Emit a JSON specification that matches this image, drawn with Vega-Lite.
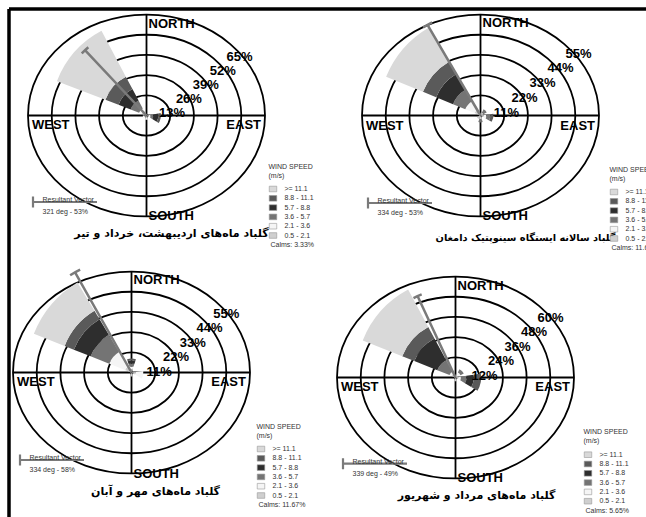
{
  "$schema": "https://vega.github.io/schema/vega-lite/v6.json",
  "background": "white",
  "padding": {"left": 8.5, "top": 8.5, "right": 0, "bottom": 0},
  "bounds": "flush",
  "columns": 2,
  "align": "each",
  "spacing": {"row": 0, "column": 0},
  "resolve": {
    "scale": {"fill": "independent", "stroke": "independent", "size": "independent", "theta": "independent", "radius": "independent", "x": "independent", "y": "independent"},
    "legend": {"fill": "independent", "stroke": "independent", "size": "independent"},
    "axis": {"x": "independent", "y": "independent"}
  },
  "config": {
    "view": {"stroke": null},
    "font": "Liberation Sans",
    "text": {"font": "Liberation Sans", "color": "black"},
    "legend": {"labelFont": "Liberation Sans", "titleFont": "Liberation Sans", "padding": 0}
  },
  "concat": [
    {
      "width": 276,
      "height": 214,
      "layer": [
        {
          "data": {"values": [{"ring": 13, "label": "13%"}, {"ring": 26, "label": "26%"}, {"ring": 39, "label": "39%"}, {"ring": 52, "label": "52%"}, {"ring": 65, "label": "65%"}]},
          "layer": [
            {"mark": {"type": "point", "shape": "M1,0C1,0.4706 0.5523,0.852 0,0.852C-0.5523,0.852 -1,0.4706 -1,0C-1,-0.4706 -0.5523,-0.852 0,-0.852C0.5523,-0.852 1,-0.4706 1,0Z", "filled": false, "stroke": "black", "strokeWidth": 1.8, "opacity": 1},
             "encoding": {"size": {"field": "ring", "type": "quantitative", "scale": {"type": "pow", "exponent": 2, "domain": [0, 65], "range": [0, 56169]}, "legend": null}}},
            {"transform": [{"filter": "datum.ring == 65"}],
             "mark": {"type": "point", "shape": "M-1,0L1,0M0,-0.852L0,0.852", "filled": false, "stroke": "black", "strokeWidth": 1.8, "opacity": 1},
             "encoding": {"size": {"field": "ring", "type": "quantitative", "scale": {"type": "pow", "exponent": 2, "domain": [0, 65], "range": [0, 56169]}, "legend": null}}}
          ]
        },
        {
          "data": {"values": [
            {"dir": 311.5, "speed": "0.5 - 2.1", "r0": 0, "r1": 3},
            {"dir": 311.5, "speed": "2.1 - 3.6", "r0": 3, "r1": 4.7},
            {"dir": 311.5, "speed": "3.6 - 5.7", "r0": 4.7, "r1": 10},
            {"dir": 311.5, "speed": "5.7 - 8.8", "r0": 10, "r1": 17.7},
            {"dir": 311.5, "speed": "8.8 - 11.1", "r0": 17.7, "r1": 26},
            {"dir": 311.5, "speed": ">= 11.1", "r0": 26, "r1": 56.7},
            {"dir": 101, "speed": "0.5 - 2.1", "r0": 0, "r1": 1.2},
            {"dir": 101, "speed": "2.1 - 3.6", "r0": 1.2, "r1": 2.5},
            {"dir": 101, "speed": "3.6 - 5.7", "r0": 2.5, "r1": 4},
            {"dir": 101, "speed": "5.7 - 8.8", "r0": 4, "r1": 7},
            {"dir": 101, "speed": "8.8 - 11.1", "r0": 7, "r1": 8.5},
            {"dir": 180, "speed": "0.5 - 2.1", "r0": 0, "r1": 1.5},
            {"dir": 180, "speed": "2.1 - 3.6", "r0": 1.5, "r1": 2.5},
            {"dir": 250, "speed": "0.5 - 2.1", "r0": 0, "r1": 1.5},
            {"dir": 250, "speed": "2.1 - 3.6", "r0": 1.5, "r1": 2.2}
          ]},
          "mark": {"type": "arc", "thetaOffset": -0.358, "theta2Offset": 0.358},
          "encoding": {
            "theta": {"field": "dir", "type": "quantitative", "stack": null, "scale": {"domain": [0, 360], "range": [0, 6.283185], "zero": false, "nice": false}},
            "theta2": {"field": "dir"},
            "radius": {"field": "r1", "type": "quantitative", "scale": {"type": "linear", "domain": [0, 65], "range": [0, 110], "zero": true, "nice": false}},
            "radius2": {"field": "r0"},
            "fill": {"field": "speed", "type": "nominal",
              "scale": {"domain": [">= 11.1", "8.8 - 11.1", "5.7 - 8.8", "3.6 - 5.7", "2.1 - 3.6", "0.5 - 2.1", "Calms: 3.33%"], "range": ["#d9d9d9", "#5a5a5a", "#2e2e2e", "#747474", "#f5f5f5", "#cfcfcf", "rgba(255,255,255,0)"]},
              "legend": {"orient": "none", "legendX": 260, "legendY": 154, "title": ["WIND SPEED", "(m/s)"], "titleFontSize": 7, "titleFontWeight": "normal", "titleColor": "#333", "titleLineHeight": 9, "titlePadding": 6, "labelFontSize": 7, "labelColor": "#333", "labelOffset": 7, "symbolType": "M-1,-0.75L1,-0.75L1,0.75L-1,0.75Z", "symbolSize": 56, "symbolStrokeColor": "#999", "symbolStrokeWidth": 0.6, "symbolOpacity": 1, "rowPadding": 0.3,
                "encode": {"symbols": {"update": {"strokeOpacity": {"signal": "indexof(datum.label, 'Calms') === 0 ? 0 : 1"}}}, "labels": {"update": {"dx": {"signal": "indexof(datum.label, 'Calms') === 0 ? -14 : 0"}}}}}
            }
          }
        },
        {
          "data": {"values": [{"vec": "321 deg - 53%", "dir": 316.7, "len": 53}]},
          "layer": [
            {"mark": {"type": "arc", "filled": false, "strokeWidth": 2.5},
             "encoding": {
               "theta": {"field": "dir", "type": "quantitative", "stack": null, "scale": {"domain": [0, 360], "range": [0, 6.283185], "zero": false, "nice": false}},
               "theta2": {"field": "dir"},
               "radius": {"field": "len", "type": "quantitative", "scale": {"type": "linear", "domain": [0, 65], "range": [0, 110], "zero": true, "nice": false}},
               "stroke": {"field": "vec", "type": "nominal", "scale": {"range": ["#7a7a7a"]},
                 "legend": {"orient": "none", "legendX": 23, "legendY": 160, "title": null, "symbolType": "M-1,-0.17L-1,0.17M-1,0L1,0", "symbolSize": 4096, "symbolStrokeWidth": 2.2, "labelExpr": "['Resultant Vector', datum.label]", "labelOffset": -56, "labelFontSize": 7, "labelColor": "#333", "labelBaseline": "middle",
                   "encode": {"labels": {"update": {"lineHeight": {"value": 11.7}, "dy": {"value": -1.8}}}}}}
             }},
            {"mark": {"type": "arc", "filled": false, "strokeWidth": 2.5, "thetaOffset": -0.05, "theta2Offset": 0.05},
             "encoding": {
               "theta": {"field": "dir", "type": "quantitative", "stack": null, "scale": {"domain": [0, 360], "range": [0, 6.283185], "zero": false, "nice": false}},
               "theta2": {"field": "dir"},
               "radius": {"field": "len", "type": "quantitative", "scale": {"type": "linear", "domain": [0, 65], "range": [0, 110], "zero": true, "nice": false}},
               "radius2": {"field": "len"},
               "stroke": {"field": "vec", "type": "nominal", "scale": {"range": ["#7a7a7a"]},
                 "legend": {"orient": "none", "legendX": 23, "legendY": 160, "title": null, "symbolType": "M-1,-0.17L-1,0.17M-1,0L1,0", "symbolSize": 4096, "symbolStrokeWidth": 2.2, "labelExpr": "['Resultant Vector', datum.label]", "labelOffset": -56, "labelFontSize": 7, "labelColor": "#333", "labelBaseline": "middle",
                   "encode": {"labels": {"update": {"lineHeight": {"value": 11.7}, "dy": {"value": -1.8}}}}}}
             }}
          ]
        },
        {
          "data": {"values": [{"ring": 13, "label": "13%"}, {"ring": 26, "label": "26%"}, {"ring": 39, "label": "39%"}, {"ring": 52, "label": "52%"}, {"ring": 65, "label": "65%"}]},
          "mark": {"type": "text", "fontWeight": "bold", "fontSize": 13, "dx": 8.6, "dy": 11, "align": "center", "baseline": "middle"},
          "encoding": {
            "x": {"field": "ring", "type": "quantitative", "scale": {"domain": [-106.15, 106.15], "nice": false, "zero": false}, "axis": {"orient": "top", "title": null, "labels": false, "ticks": false, "grid": false, "domain": true, "domainColor": "black", "domainWidth": 3.5, "zindex": 1}},
            "y": {"field": "ring", "type": "quantitative", "scale": {"domain": [-99.36, 99.36], "nice": false, "zero": false}, "axis": {"orient": "left", "title": null, "labels": false, "ticks": false, "grid": false, "domain": true, "domainColor": "black", "domainWidth": 3.5, "zindex": 1}},
            "text": {"field": "label"}
          }
        },
        {"data": {"values": [{"label": "NORTH"}]}, "mark": {"type": "text", "fontWeight": "bold", "fontSize": 13, "align": "left", "baseline": "top", "dx": 2},
         "encoding": {"x": {"datum": 0, "type": "quantitative", "axis": {"orient": "top", "title": null, "labels": false, "ticks": false, "grid": false, "domain": true, "domainColor": "black", "domainWidth": 3.5, "zindex": 1}}, "y": {"datum": 91.0, "type": "quantitative", "axis": {"orient": "left", "title": null, "labels": false, "ticks": false, "grid": false, "domain": true, "domainColor": "black", "domainWidth": 3.5, "zindex": 1}}, "text": {"field": "label"}}},
        {"data": {"values": [{"label": "SOUTH"}]}, "mark": {"type": "text", "fontWeight": "bold", "fontSize": 13, "align": "left", "baseline": "top", "dx": 2},
         "encoding": {"x": {"datum": 0, "type": "quantitative", "axis": {"orient": "top", "title": null, "labels": false, "ticks": false, "grid": false, "domain": true, "domainColor": "black", "domainWidth": 3.5, "zindex": 1}}, "y": {"datum": -88.2, "type": "quantitative", "axis": {"orient": "left", "title": null, "labels": false, "ticks": false, "grid": false, "domain": true, "domainColor": "black", "domainWidth": 3.5, "zindex": 1}}, "text": {"field": "label"}}},
        {"data": {"values": [{"label": "WEST"}]}, "mark": {"type": "text", "fontWeight": "bold", "fontSize": 13, "align": "left", "baseline": "top"},
         "encoding": {"x": {"datum": -88.1, "type": "quantitative", "axis": {"orient": "top", "title": null, "labels": false, "ticks": false, "grid": false, "domain": true, "domainColor": "black", "domainWidth": 3.5, "zindex": 1}}, "y": {"datum": -3.7, "type": "quantitative", "axis": {"orient": "left", "title": null, "labels": false, "ticks": false, "grid": false, "domain": true, "domainColor": "black", "domainWidth": 3.5, "zindex": 1}}, "text": {"field": "label"}}},
        {"data": {"values": [{"label": "EAST"}]}, "mark": {"type": "text", "fontWeight": "bold", "fontSize": 13, "align": "right", "baseline": "top"},
         "encoding": {"x": {"datum": 88.1, "type": "quantitative", "axis": {"orient": "top", "title": null, "labels": false, "ticks": false, "grid": false, "domain": true, "domainColor": "black", "domainWidth": 3.5, "zindex": 1}}, "y": {"datum": -3.7, "type": "quantitative", "axis": {"orient": "left", "title": null, "labels": false, "ticks": false, "grid": false, "domain": true, "domainColor": "black", "domainWidth": 3.5, "zindex": 1}}, "text": {"field": "label"}}},
        {"data": {"values": [{"label": "گلباد ماه‌های اردیبهشت، خرداد و تیر"}]}, "mark": {"type": "text", "font": "DejaVu Sans", "fontWeight": "bold", "fontSize": 11, "align": "center", "baseline": "middle"},
         "encoding": {"x": {"datum": 19.2, "type": "quantitative", "axis": {"orient": "top", "title": null, "labels": false, "ticks": false, "grid": false, "domain": true, "domainColor": "black", "domainWidth": 3.5, "zindex": 1}}, "y": {"datum": -109.6, "type": "quantitative", "axis": {"orient": "left", "title": null, "labels": false, "ticks": false, "grid": false, "domain": true, "domainColor": "black", "domainWidth": 3.5, "zindex": 1}}, "text": {"field": "label"}}}
      ]
    },
    {
      "width": 392,
      "height": 214,
      "layer": [
        {
          "data": {"values": [{"ring": 11, "label": "11%"}, {"ring": 22, "label": "22%"}, {"ring": 33, "label": "33%"}, {"ring": 44, "label": "44%"}, {"ring": 55, "label": "55%"}]},
          "layer": [
            {"mark": {"type": "point", "shape": "M1,0C1,0.4706 0.5523,0.852 0,0.852C-0.5523,0.852 -1,0.4706 -1,0C-1,-0.4706 -0.5523,-0.852 0,-0.852C0.5523,-0.852 1,-0.4706 1,0Z", "filled": false, "stroke": "black", "strokeWidth": 1.8, "opacity": 1},
             "encoding": {"size": {"field": "ring", "type": "quantitative", "scale": {"type": "pow", "exponent": 2, "domain": [0, 55], "range": [0, 56169]}, "legend": null}}},
            {"transform": [{"filter": "datum.ring == 55"}],
             "mark": {"type": "point", "shape": "M-1,0L1,0M0,-0.852L0,0.852", "filled": false, "stroke": "black", "strokeWidth": 1.8, "opacity": 1},
             "encoding": {"size": {"field": "ring", "type": "quantitative", "scale": {"type": "pow", "exponent": 2, "domain": [0, 55], "range": [0, 56169]}, "legend": null}}}
          ]
        },
        {
          "data": {"values": [
            {"dir": 311, "speed": "0.5 - 2.1", "r0": 0, "r1": 3.2},
            {"dir": 311, "speed": "2.1 - 3.6", "r0": 3.2, "r1": 8.3},
            {"dir": 311, "speed": "3.6 - 5.7", "r0": 8.3, "r1": 15},
            {"dir": 311, "speed": "5.7 - 8.8", "r0": 15, "r1": 24.2},
            {"dir": 311, "speed": "8.8 - 11.1", "r0": 24.2, "r1": 31.4},
            {"dir": 311, "speed": ">= 11.1", "r0": 31.4, "r1": 51.5},
            {"dir": 101, "speed": "0.5 - 2.1", "r0": 0, "r1": 1.5},
            {"dir": 101, "speed": "2.1 - 3.6", "r0": 1.5, "r1": 3},
            {"dir": 101, "speed": "3.6 - 5.7", "r0": 3, "r1": 5},
            {"dir": 101, "speed": "8.8 - 11.1", "r0": 5, "r1": 6.5},
            {"dir": 180, "speed": "0.5 - 2.1", "r0": 0, "r1": 2},
            {"dir": 180, "speed": "3.6 - 5.7", "r0": 2, "r1": 3.5},
            {"dir": 45, "speed": "0.5 - 2.1", "r0": 0, "r1": 1.5},
            {"dir": 45, "speed": "3.6 - 5.7", "r0": 1.5, "r1": 3.5},
            {"dir": 225, "speed": "0.5 - 2.1", "r0": 0, "r1": 2}
          ]},
          "mark": {"type": "arc", "thetaOffset": -0.3255, "theta2Offset": 0.3255},
          "encoding": {
            "theta": {"field": "dir", "type": "quantitative", "stack": null, "scale": {"domain": [0, 360], "range": [0, 6.283185], "zero": false, "nice": false}},
            "theta2": {"field": "dir"},
            "radius": {"field": "r1", "type": "quantitative", "scale": {"type": "linear", "domain": [0, 55], "range": [0, 109], "zero": true, "nice": false}},
            "radius2": {"field": "r0"},
            "fill": {"field": "speed", "type": "nominal",
              "scale": {"domain": [">= 11.1", "8.8 - 11.1", "5.7 - 8.8", "3.6 - 5.7", "2.1 - 3.6", "0.5 - 2.1", "Calms: 11.64%"], "range": ["#d9d9d9", "#5a5a5a", "#2e2e2e", "#747474", "#f5f5f5", "#cfcfcf", "rgba(255,255,255,0)"]},
              "legend": {"orient": "none", "legendX": 325, "legendY": 157, "title": ["WIND SPEED", "(m/s)"], "titleFontSize": 7, "titleFontWeight": "normal", "titleColor": "#333", "titleLineHeight": 9, "titlePadding": 6, "labelFontSize": 7, "labelColor": "#333", "labelOffset": 7, "symbolType": "M-1,-0.75L1,-0.75L1,0.75L-1,0.75Z", "symbolSize": 56, "symbolStrokeColor": "#999", "symbolStrokeWidth": 0.6, "symbolOpacity": 1, "rowPadding": 0.3,
                "encode": {"symbols": {"update": {"strokeOpacity": {"signal": "indexof(datum.label, 'Calms') === 0 ? 0 : 1"}}}, "labels": {"update": {"dx": {"signal": "indexof(datum.label, 'Calms') === 0 ? -14 : 0"}}}}}
            }
          }
        },
        {
          "data": {"values": [{"vec": "334 deg - 53%", "dir": 329.7, "len": 53}]},
          "layer": [
            {"mark": {"type": "arc", "filled": false, "strokeWidth": 2.5},
             "encoding": {
               "theta": {"field": "dir", "type": "quantitative", "stack": null, "scale": {"domain": [0, 360], "range": [0, 6.283185], "zero": false, "nice": false}},
               "theta2": {"field": "dir"},
               "radius": {"field": "len", "type": "quantitative", "scale": {"type": "linear", "domain": [0, 55], "range": [0, 109], "zero": true, "nice": false}},
               "stroke": {"field": "vec", "type": "nominal", "scale": {"range": ["#7a7a7a"]},
                 "legend": {"orient": "none", "legendX": 82, "legendY": 161, "title": null, "symbolType": "M-1,-0.17L-1,0.17M-1,0L1,0", "symbolSize": 4096, "symbolStrokeWidth": 2.2, "labelExpr": "['Resultant Vector', datum.label]", "labelOffset": -56, "labelFontSize": 7, "labelColor": "#333", "labelBaseline": "middle",
                   "encode": {"labels": {"update": {"lineHeight": {"value": 11.7}, "dy": {"value": -1.8}}}}}}
             }},
            {"mark": {"type": "arc", "filled": false, "strokeWidth": 2.5, "thetaOffset": -0.05, "theta2Offset": 0.05},
             "encoding": {
               "theta": {"field": "dir", "type": "quantitative", "stack": null, "scale": {"domain": [0, 360], "range": [0, 6.283185], "zero": false, "nice": false}},
               "theta2": {"field": "dir"},
               "radius": {"field": "len", "type": "quantitative", "scale": {"type": "linear", "domain": [0, 55], "range": [0, 109], "zero": true, "nice": false}},
               "radius2": {"field": "len"},
               "stroke": {"field": "vec", "type": "nominal", "scale": {"range": ["#7a7a7a"]},
                 "legend": {"orient": "none", "legendX": 82, "legendY": 161, "title": null, "symbolType": "M-1,-0.17L-1,0.17M-1,0L1,0", "symbolSize": 4096, "symbolStrokeWidth": 2.2, "labelExpr": "['Resultant Vector', datum.label]", "labelOffset": -56, "labelFontSize": 7, "labelColor": "#333", "labelBaseline": "middle",
                   "encode": {"labels": {"update": {"lineHeight": {"value": 11.7}, "dy": {"value": -1.8}}}}}}
             }}
          ]
        },
        {
          "data": {"values": [{"ring": 11, "label": "11%"}, {"ring": 22, "label": "22%"}, {"ring": 33, "label": "33%"}, {"ring": 44, "label": "44%"}, {"ring": 55, "label": "55%"}]},
          "mark": {"type": "text", "fontWeight": "bold", "fontSize": 13, "dx": 8, "dy": 11.75, "align": "center", "baseline": "middle"},
          "encoding": {
            "x": {"field": "ring", "type": "quantitative", "scale": {"domain": [-119.8, 119.8], "nice": false, "zero": false}, "axis": {"orient": "top", "title": null, "labels": false, "ticks": false, "grid": false, "domain": true, "domainColor": "black", "domainWidth": 3.5, "zindex": 1}},
            "y": {"field": "ring", "type": "quantitative", "scale": {"domain": [-79.8, 79.8], "nice": false, "zero": false}, "axis": null},
            "text": {"field": "label"}
          }
        },
        {"data": {"values": [{"label": "NORTH"}]}, "mark": {"type": "text", "fontWeight": "bold", "fontSize": 13, "align": "left", "baseline": "top", "dx": 2},
         "encoding": {"x": {"datum": 0, "type": "quantitative", "axis": {"orient": "top", "title": null, "labels": false, "ticks": false, "grid": false, "domain": true, "domainColor": "black", "domainWidth": 3.5, "zindex": 1}}, "y": {"datum": 73.1, "type": "quantitative", "axis": null}, "text": {"field": "label"}}},
        {"data": {"values": [{"label": "SOUTH"}]}, "mark": {"type": "text", "fontWeight": "bold", "fontSize": 13, "align": "left", "baseline": "top", "dx": 2},
         "encoding": {"x": {"datum": 0, "type": "quantitative", "axis": {"orient": "top", "title": null, "labels": false, "ticks": false, "grid": false, "domain": true, "domainColor": "black", "domainWidth": 3.5, "zindex": 1}}, "y": {"datum": -70.8, "type": "quantitative", "axis": null}, "text": {"field": "label"}}},
        {"data": {"values": [{"label": "WEST"}]}, "mark": {"type": "text", "fontWeight": "bold", "fontSize": 13, "align": "left", "baseline": "top"},
         "encoding": {"x": {"datum": -70.0, "type": "quantitative", "axis": {"orient": "top", "title": null, "labels": false, "ticks": false, "grid": false, "domain": true, "domainColor": "black", "domainWidth": 3.5, "zindex": 1}}, "y": {"datum": -3.0, "type": "quantitative", "axis": null}, "text": {"field": "label"}}},
        {"data": {"values": [{"label": "EAST"}]}, "mark": {"type": "text", "fontWeight": "bold", "fontSize": 13, "align": "right", "baseline": "top"},
         "encoding": {"x": {"datum": 70.0, "type": "quantitative", "axis": {"orient": "top", "title": null, "labels": false, "ticks": false, "grid": false, "domain": true, "domainColor": "black", "domainWidth": 3.5, "zindex": 1}}, "y": {"datum": -3.0, "type": "quantitative", "axis": null}, "text": {"field": "label"}}},
        {"data": {"values": [{"label": "گلباد سالانه ایستگاه سینوپتیک دامغان"}]}, "mark": {"type": "text", "font": "DejaVu Sans", "fontWeight": "bold", "fontSize": 9.8, "align": "center", "baseline": "middle"},
         "encoding": {"x": {"datum": 27.5, "type": "quantitative", "axis": {"orient": "top", "title": null, "labels": false, "ticks": false, "grid": false, "domain": true, "domainColor": "black", "domainWidth": 3.5, "zindex": 1}}, "y": {"datum": -91.7, "type": "quantitative", "axis": null}, "text": {"field": "label"}}}
      ]
    },
    {
      "width": 246,
      "height": 300,
      "layer": [
        {
          "data": {"values": [{"ring": 11, "label": "11%"}, {"ring": 22, "label": "22%"}, {"ring": 33, "label": "33%"}, {"ring": 44, "label": "44%"}, {"ring": 55, "label": "55%"}]},
          "layer": [
            {"mark": {"type": "point", "shape": "M1,0C1,0.4706 0.5523,0.852 0,0.852C-0.5523,0.852 -1,0.4706 -1,0C-1,-0.4706 -0.5523,-0.852 0,-0.852C0.5523,-0.852 1,-0.4706 1,0Z", "filled": false, "stroke": "black", "strokeWidth": 1.8, "opacity": 1},
             "encoding": {"size": {"field": "ring", "type": "quantitative", "scale": {"type": "pow", "exponent": 2, "domain": [0, 55], "range": [0, 56169]}, "legend": null}}},
            {"transform": [{"filter": "datum.ring == 55"}],
             "mark": {"type": "point", "shape": "M-1,0L1,0M0,-0.852L0,0.852", "filled": false, "stroke": "black", "strokeWidth": 1.8, "opacity": 1},
             "encoding": {"size": {"field": "ring", "type": "quantitative", "scale": {"type": "pow", "exponent": 2, "domain": [0, 55], "range": [0, 56169]}, "legend": null}}}
          ]
        },
        {
          "data": {"values": [
            {"dir": 310.3, "speed": "0.5 - 2.1", "r0": 0, "r1": 3.5},
            {"dir": 310.3, "speed": "2.1 - 3.6", "r0": 3.5, "r1": 12.1},
            {"dir": 310.3, "speed": "3.6 - 5.7", "r0": 12.1, "r1": 22.2},
            {"dir": 310.3, "speed": "5.7 - 8.8", "r0": 22.2, "r1": 31.3},
            {"dir": 310.3, "speed": "8.8 - 11.1", "r0": 31.3, "r1": 36.3},
            {"dir": 310.3, "speed": ">= 11.1", "r0": 36.3, "r1": 53},
            {"dir": 0, "speed": "0.5 - 2.1", "r0": 0, "r1": 1.5},
            {"dir": 0, "speed": "2.1 - 3.6", "r0": 1.5, "r1": 3},
            {"dir": 0, "speed": "3.6 - 5.7", "r0": 3, "r1": 4.5},
            {"dir": 0, "speed": "5.7 - 8.8", "r0": 4.5, "r1": 6},
            {"dir": 0, "speed": "8.8 - 11.1", "r0": 6, "r1": 7},
            {"dir": 101, "speed": "0.5 - 2.1", "r0": 0, "r1": 2},
            {"dir": 101, "speed": "2.1 - 3.6", "r0": 2, "r1": 6},
            {"dir": 180, "speed": "0.5 - 2.1", "r0": 0, "r1": 2}
          ]},
          "mark": {"type": "arc", "thetaOffset": -0.326, "theta2Offset": 0.326},
          "encoding": {
            "theta": {"field": "dir", "type": "quantitative", "stack": null, "scale": {"domain": [0, 360], "range": [0, 6.283185], "zero": false, "nice": false}},
            "theta2": {"field": "dir"},
            "radius": {"field": "r1", "type": "quantitative", "scale": {"type": "linear", "domain": [0, 55], "range": [0, 109], "zero": true, "nice": false}},
            "radius2": {"field": "r0"},
            "fill": {"field": "speed", "type": "nominal",
              "scale": {"domain": [">= 11.1", "8.8 - 11.1", "5.7 - 8.8", "3.6 - 5.7", "2.1 - 3.6", "0.5 - 2.1", "Calms: 11.67%"], "range": ["#d9d9d9", "#5a5a5a", "#2e2e2e", "#747474", "#f5f5f5", "#cfcfcf", "rgba(255,255,255,0)"]},
              "legend": {"orient": "none", "legendX": 248, "legendY": 200, "title": ["WIND SPEED", "(m/s)"], "titleFontSize": 7, "titleFontWeight": "normal", "titleColor": "#333", "titleLineHeight": 9, "titlePadding": 6, "labelFontSize": 7, "labelColor": "#333", "labelOffset": 7, "symbolType": "M-1,-0.75L1,-0.75L1,0.75L-1,0.75Z", "symbolSize": 56, "symbolStrokeColor": "#999", "symbolStrokeWidth": 0.6, "symbolOpacity": 1, "rowPadding": 0.3,
                "encode": {"symbols": {"update": {"strokeOpacity": {"signal": "indexof(datum.label, 'Calms') === 0 ? 0 : 1"}}}, "labels": {"update": {"dx": {"signal": "indexof(datum.label, 'Calms') === 0 ? -14 : 0"}}}}}
            }
          }
        },
        {
          "data": {"values": [{"vec": "334 deg - 58%", "dir": 330.6, "len": 58}]},
          "layer": [
            {"mark": {"type": "arc", "filled": false, "strokeWidth": 2.5},
             "encoding": {
               "theta": {"field": "dir", "type": "quantitative", "stack": null, "scale": {"domain": [0, 360], "range": [0, 6.283185], "zero": false, "nice": false}},
               "theta2": {"field": "dir"},
               "radius": {"field": "len", "type": "quantitative", "scale": {"type": "linear", "domain": [0, 55], "range": [0, 109], "zero": true, "nice": false}},
               "stroke": {"field": "vec", "type": "nominal", "scale": {"range": ["#7a7a7a"]},
                 "legend": {"orient": "none", "legendX": 10, "legendY": 204, "title": null, "symbolType": "M-1,-0.17L-1,0.17M-1,0L1,0", "symbolSize": 4096, "symbolStrokeWidth": 2.2, "labelExpr": "['Resultant Vector', datum.label]", "labelOffset": -56, "labelFontSize": 7, "labelColor": "#333", "labelBaseline": "middle",
                   "encode": {"labels": {"update": {"lineHeight": {"value": 11.7}, "dy": {"value": -1.8}}}}}}
             }},
            {"mark": {"type": "arc", "filled": false, "strokeWidth": 2.5, "thetaOffset": -0.05, "theta2Offset": 0.05},
             "encoding": {
               "theta": {"field": "dir", "type": "quantitative", "stack": null, "scale": {"domain": [0, 360], "range": [0, 6.283185], "zero": false, "nice": false}},
               "theta2": {"field": "dir"},
               "radius": {"field": "len", "type": "quantitative", "scale": {"type": "linear", "domain": [0, 55], "range": [0, 109], "zero": true, "nice": false}},
               "radius2": {"field": "len"},
               "stroke": {"field": "vec", "type": "nominal", "scale": {"range": ["#7a7a7a"]},
                 "legend": {"orient": "none", "legendX": 10, "legendY": 204, "title": null, "symbolType": "M-1,-0.17L-1,0.17M-1,0L1,0", "symbolSize": 4096, "symbolStrokeWidth": 2.2, "labelExpr": "['Resultant Vector', datum.label]", "labelOffset": -56, "labelFontSize": 7, "labelColor": "#333", "labelBaseline": "middle",
                   "encode": {"labels": {"update": {"lineHeight": {"value": 11.7}, "dy": {"value": -1.8}}}}}}
             }}
          ]
        },
        {
          "data": {"values": [{"ring": 11, "label": "11%"}, {"ring": 22, "label": "22%"}, {"ring": 33, "label": "33%"}, {"ring": 44, "label": "44%"}, {"ring": 55, "label": "55%"}]},
          "mark": {"type": "text", "fontWeight": "bold", "fontSize": 13, "dx": 11, "dy": 13.5, "align": "center", "baseline": "middle"},
          "encoding": {
            "x": {"field": "ring", "type": "quantitative", "scale": {"domain": [-80.8, 80.8], "nice": false, "zero": false}, "axis": null},
            "y": {"field": "ring", "type": "quantitative", "scale": {"domain": [-113.8, 113.8], "nice": false, "zero": false}, "axis": {"orient": "left", "title": null, "labels": false, "ticks": false, "grid": false, "domain": true, "domainColor": "black", "domainWidth": 3.5, "zindex": 1}},
            "text": {"field": "label"}
          }
        },
        {"data": {"values": [{"label": "NORTH"}]}, "mark": {"type": "text", "fontWeight": "bold", "fontSize": 13, "align": "left", "baseline": "top", "dx": 2},
         "encoding": {"x": {"datum": 0, "type": "quantitative", "axis": null}, "y": {"datum": 74.4, "type": "quantitative", "axis": {"orient": "left", "title": null, "labels": false, "ticks": false, "grid": false, "domain": true, "domainColor": "black", "domainWidth": 3.5, "zindex": 1}}, "text": {"field": "label"}}},
        {"data": {"values": [{"label": "SOUTH"}]}, "mark": {"type": "text", "fontWeight": "bold", "fontSize": 13, "align": "left", "baseline": "top", "dx": 2},
         "encoding": {"x": {"datum": 0, "type": "quantitative", "axis": null}, "y": {"datum": -72.1, "type": "quantitative", "axis": {"orient": "left", "title": null, "labels": false, "ticks": false, "grid": false, "domain": true, "domainColor": "black", "domainWidth": 3.5, "zindex": 1}}, "text": {"field": "label"}}},
        {"data": {"values": [{"label": "WEST"}]}, "mark": {"type": "text", "fontWeight": "bold", "fontSize": 13, "align": "left", "baseline": "top"},
         "encoding": {"x": {"datum": -75.2, "type": "quantitative", "axis": null}, "y": {"datum": -3.03, "type": "quantitative", "axis": {"orient": "left", "title": null, "labels": false, "ticks": false, "grid": false, "domain": true, "domainColor": "black", "domainWidth": 3.5, "zindex": 1}}, "text": {"field": "label"}}},
        {"data": {"values": [{"label": "EAST"}]}, "mark": {"type": "text", "fontWeight": "bold", "fontSize": 13, "align": "right", "baseline": "top"},
         "encoding": {"x": {"datum": 75.2, "type": "quantitative", "axis": null}, "y": {"datum": -3.03, "type": "quantitative", "axis": {"orient": "left", "title": null, "labels": false, "ticks": false, "grid": false, "domain": true, "domainColor": "black", "domainWidth": 3.5, "zindex": 1}}, "text": {"field": "label"}}},
        {"data": {"values": [{"label": "گلباد ماه‌های مهر و آبان"}]}, "mark": {"type": "text", "font": "DejaVu Sans", "fontWeight": "bold", "fontSize": 11, "align": "center", "baseline": "middle"},
         "encoding": {"x": {"datum": 15.8, "type": "quantitative", "axis": null}, "y": {"datum": -91.0, "type": "quantitative", "axis": {"orient": "left", "title": null, "labels": false, "ticks": false, "grid": false, "domain": true, "domainColor": "black", "domainWidth": 3.5, "zindex": 1}}, "text": {"field": "label"}}}
      ]
    },
    {
      "width": 342,
      "height": 310,
      "layer": [
        {
          "data": {"values": [{"ring": 12, "label": "12%"}, {"ring": 24, "label": "24%"}, {"ring": 36, "label": "36%"}, {"ring": 48, "label": "48%"}, {"ring": 60, "label": "60%"}]},
          "layer": [
            {"mark": {"type": "point", "shape": "M1,0C1,0.4706 0.5523,0.852 0,0.852C-0.5523,0.852 -1,0.4706 -1,0C-1,-0.4706 -0.5523,-0.852 0,-0.852C0.5523,-0.852 1,-0.4706 1,0Z", "filled": false, "stroke": "black", "strokeWidth": 1.8, "opacity": 1},
             "encoding": {"size": {"field": "ring", "type": "quantitative", "scale": {"type": "pow", "exponent": 2, "domain": [0, 60], "range": [0, 56169]}, "legend": null}}},
            {"transform": [{"filter": "datum.ring == 60"}],
             "mark": {"type": "point", "shape": "M-1,0L1,0M0,-0.852L0,0.852", "filled": false, "stroke": "black", "strokeWidth": 1.8, "opacity": 1},
             "encoding": {"size": {"field": "ring", "type": "quantitative", "scale": {"type": "pow", "exponent": 2, "domain": [0, 60], "range": [0, 56169]}, "legend": null}}}
          ]
        },
        {
          "data": {"values": [
            {"dir": 311.75, "speed": "0.5 - 2.1", "r0": 0, "r1": 2.2},
            {"dir": 311.75, "speed": "2.1 - 3.6", "r0": 2.2, "r1": 3.5},
            {"dir": 311.75, "speed": "3.6 - 5.7", "r0": 3.5, "r1": 10.7},
            {"dir": 311.75, "speed": "5.7 - 8.8", "r0": 10.7, "r1": 24.2},
            {"dir": 311.75, "speed": "8.8 - 11.1", "r0": 24.2, "r1": 31.3},
            {"dir": 311.75, "speed": ">= 11.1", "r0": 31.3, "r1": 54.5},
            {"dir": 101, "speed": "0.5 - 2.1", "r0": 0, "r1": 1.5},
            {"dir": 101, "speed": "2.1 - 3.6", "r0": 1.5, "r1": 3},
            {"dir": 101, "speed": "3.6 - 5.7", "r0": 3, "r1": 6},
            {"dir": 101, "speed": "5.7 - 8.8", "r0": 6, "r1": 10},
            {"dir": 101, "speed": "8.8 - 11.1", "r0": 10, "r1": 14},
            {"dir": 45, "speed": "0.5 - 2.1", "r0": 0, "r1": 1.5},
            {"dir": 45, "speed": "2.1 - 3.6", "r0": 1.5, "r1": 3},
            {"dir": 45, "speed": "3.6 - 5.7", "r0": 3, "r1": 5},
            {"dir": 180, "speed": "0.5 - 2.1", "r0": 0, "r1": 2}
          ]},
          "mark": {"type": "arc", "thetaOffset": -0.348, "theta2Offset": 0.348},
          "encoding": {
            "theta": {"field": "dir", "type": "quantitative", "stack": null, "scale": {"domain": [0, 360], "range": [0, 6.283185], "zero": false, "nice": false}},
            "theta2": {"field": "dir"},
            "radius": {"field": "r1", "type": "quantitative", "scale": {"type": "linear", "domain": [0, 60], "range": [0, 110], "zero": true, "nice": false}},
            "radius2": {"field": "r0"},
            "fill": {"field": "speed", "type": "nominal",
              "scale": {"domain": [">= 11.1", "8.8 - 11.1", "5.7 - 8.8", "3.6 - 5.7", "2.1 - 3.6", "0.5 - 2.1", "Calms: 5.65%"], "range": ["#d9d9d9", "#5a5a5a", "#2e2e2e", "#747474", "#f5f5f5", "#cfcfcf", "rgba(255,255,255,0)"]},
              "legend": {"orient": "none", "legendX": 299, "legendY": 205.7, "title": ["WIND SPEED", "(m/s)"], "titleFontSize": 7, "titleFontWeight": "normal", "titleColor": "#333", "titleLineHeight": 9, "titlePadding": 6, "labelFontSize": 7, "labelColor": "#333", "labelOffset": 7, "symbolType": "M-1,-0.75L1,-0.75L1,0.75L-1,0.75Z", "symbolSize": 56, "symbolStrokeColor": "#999", "symbolStrokeWidth": 0.6, "symbolOpacity": 1, "rowPadding": 0.3,
                "encode": {"symbols": {"update": {"strokeOpacity": {"signal": "indexof(datum.label, 'Calms') === 0 ? 0 : 1"}}}, "labels": {"update": {"dx": {"signal": "indexof(datum.label, 'Calms') === 0 ? -14 : 0"}}}}}
            }
          }
        },
        {
          "data": {"values": [{"vec": "339 deg - 49%", "dir": 335, "len": 49}]},
          "layer": [
            {"mark": {"type": "arc", "filled": false, "strokeWidth": 2.5},
             "encoding": {
               "theta": {"field": "dir", "type": "quantitative", "stack": null, "scale": {"domain": [0, 360], "range": [0, 6.283185], "zero": false, "nice": false}},
               "theta2": {"field": "dir"},
               "radius": {"field": "len", "type": "quantitative", "scale": {"type": "linear", "domain": [0, 60], "range": [0, 110], "zero": true, "nice": false}},
               "stroke": {"field": "vec", "type": "nominal", "scale": {"range": ["#7a7a7a"]},
                 "legend": {"orient": "none", "legendX": 57, "legendY": 207.7, "title": null, "symbolType": "M-1,-0.17L-1,0.17M-1,0L1,0", "symbolSize": 4096, "symbolStrokeWidth": 2.2, "labelExpr": "['Resultant Vector', datum.label]", "labelOffset": -56, "labelFontSize": 7, "labelColor": "#333", "labelBaseline": "middle",
                   "encode": {"labels": {"update": {"lineHeight": {"value": 11.7}, "dy": {"value": -1.8}}}}}}
             }},
            {"mark": {"type": "arc", "filled": false, "strokeWidth": 2.5, "thetaOffset": -0.05, "theta2Offset": 0.05},
             "encoding": {
               "theta": {"field": "dir", "type": "quantitative", "stack": null, "scale": {"domain": [0, 360], "range": [0, 6.283185], "zero": false, "nice": false}},
               "theta2": {"field": "dir"},
               "radius": {"field": "len", "type": "quantitative", "scale": {"type": "linear", "domain": [0, 60], "range": [0, 110], "zero": true, "nice": false}},
               "radius2": {"field": "len"},
               "stroke": {"field": "vec", "type": "nominal", "scale": {"range": ["#7a7a7a"]},
                 "legend": {"orient": "none", "legendX": 57, "legendY": 207.7, "title": null, "symbolType": "M-1,-0.17L-1,0.17M-1,0L1,0", "symbolSize": 4096, "symbolStrokeWidth": 2.2, "labelExpr": "['Resultant Vector', datum.label]", "labelOffset": -56, "labelFontSize": 7, "labelColor": "#333", "labelBaseline": "middle",
                   "encode": {"labels": {"update": {"lineHeight": {"value": 11.7}, "dy": {"value": -1.8}}}}}}
             }}
          ]
        },
        {
          "data": {"values": [{"ring": 12, "label": "12%"}, {"ring": 24, "label": "24%"}, {"ring": 36, "label": "36%"}, {"ring": 48, "label": "48%"}, {"ring": 60, "label": "60%"}]},
          "mark": {"type": "text", "fontWeight": "bold", "fontSize": 13, "dx": 12.5, "dy": 12.5, "align": "center", "baseline": "middle"},
          "encoding": {
            "x": {"field": "ring", "type": "quantitative", "scale": {"domain": [-124.4, 124.4], "nice": false, "zero": false}, "axis": null},
            "y": {"field": "ring", "type": "quantitative", "scale": {"domain": [-128.3, 128.3], "nice": false, "zero": false}, "axis": null},
            "text": {"field": "label"}
          }
        },
        {"data": {"values": [{"label": "NORTH"}]}, "mark": {"type": "text", "fontWeight": "bold", "fontSize": 13, "align": "left", "baseline": "top", "dx": 2},
         "encoding": {"x": {"datum": 0, "type": "quantitative", "axis": null}, "y": {"datum": 81.1, "type": "quantitative", "axis": null}, "text": {"field": "label"}}},
        {"data": {"values": [{"label": "SOUTH"}]}, "mark": {"type": "text", "fontWeight": "bold", "fontSize": 13, "align": "left", "baseline": "top", "dx": 2},
         "encoding": {"x": {"datum": 0, "type": "quantitative", "axis": null}, "y": {"datum": -78.6, "type": "quantitative", "axis": null}, "text": {"field": "label"}}},
        {"data": {"values": [{"label": "WEST"}]}, "mark": {"type": "text", "fontWeight": "bold", "fontSize": 13, "align": "left", "baseline": "top"},
         "encoding": {"x": {"datum": -83.3, "type": "quantitative", "axis": null}, "y": {"datum": -3.31, "type": "quantitative", "axis": null}, "text": {"field": "label"}}},
        {"data": {"values": [{"label": "EAST"}]}, "mark": {"type": "text", "fontWeight": "bold", "fontSize": 13, "align": "right", "baseline": "top"},
         "encoding": {"x": {"datum": 83.3, "type": "quantitative", "axis": null}, "y": {"datum": -3.31, "type": "quantitative", "axis": null}, "text": {"field": "label"}}},
        {"data": {"values": [{"label": "گلباد ماه‌های مرداد و شهریور"}]}, "mark": {"type": "text", "font": "DejaVu Sans", "fontWeight": "bold", "fontSize": 11, "align": "center", "baseline": "middle"},
         "encoding": {"x": {"datum": 15.3, "type": "quantitative", "axis": null}, "y": {"datum": -98.5, "type": "quantitative", "axis": null}, "text": {"field": "label"}}}
      ]
    }
  ]
}
